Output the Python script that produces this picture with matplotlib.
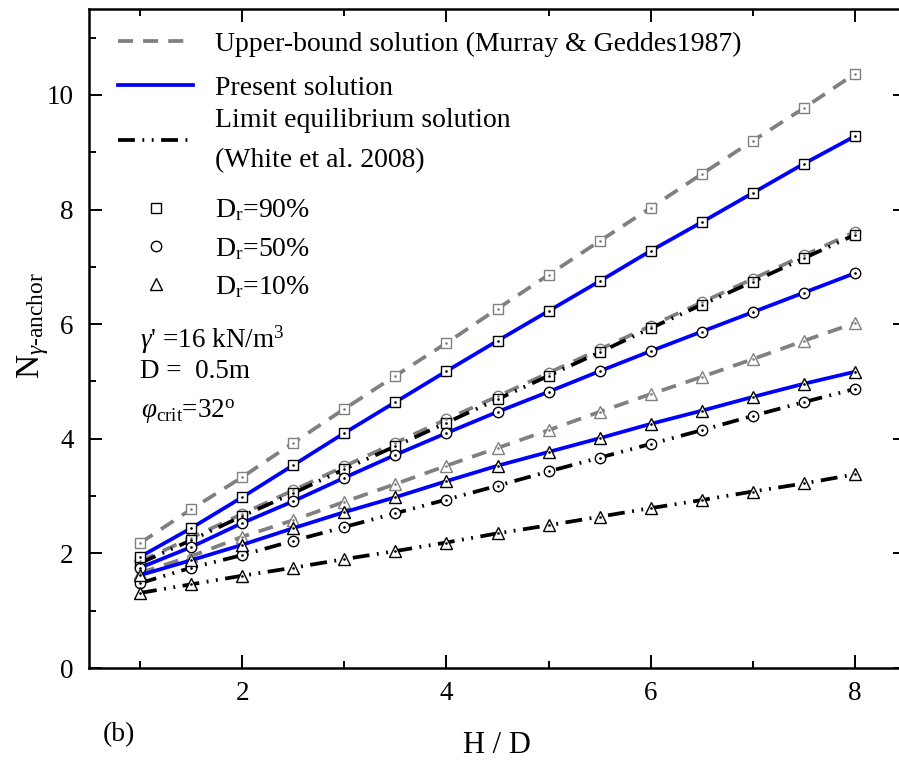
import matplotlib
matplotlib.use('Agg')
import matplotlib.pyplot as plt
from matplotlib.lines import Line2D
from matplotlib.ticker import MultipleLocator

plt.rcParams['font.family'] = ['Liberation Serif', 'DejaVu Serif']
plt.rcParams['mathtext.fontset'] = 'custom'
plt.rcParams['mathtext.rm'] = 'Liberation Serif'
plt.rcParams['mathtext.it'] = 'Liberation Serif:italic'

# H/D values
hd = [1, 1.5, 2, 2.5, 3, 3.5, 4, 4.5, 5, 5.5, 6, 6.5, 7, 7.5, 8]

# upper-bound solution (Murray & Geddes 1987)
ub90 = [2.18, 2.77, 3.33, 3.93, 4.52, 5.10, 5.67, 6.27, 6.86, 7.45, 8.03, 8.62, 9.20, 9.77, 10.37]
ub50 = [1.86, 2.27, 2.69, 3.10, 3.52, 3.93, 4.34, 4.74, 5.15, 5.56, 5.97, 6.38, 6.79, 7.20, 7.61]
ub10 = [1.66, 1.95, 2.29, 2.58, 2.90, 3.21, 3.53, 3.84, 4.15, 4.47, 4.78, 5.08, 5.39, 5.71, 6.02]
# present solution
ps90 = [1.94, 2.44, 2.98, 3.54, 4.10, 4.64, 5.18, 5.71, 6.23, 6.75, 7.28, 7.78, 8.29, 8.80, 9.28]
ps50 = [1.75, 2.11, 2.53, 2.91, 3.32, 3.72, 4.10, 4.47, 4.82, 5.18, 5.53, 5.87, 6.21, 6.55, 6.89]
ps10 = [1.62, 1.88, 2.15, 2.44, 2.72, 2.98, 3.26, 3.53, 3.77, 4.01, 4.26, 4.49, 4.73, 4.96, 5.17]
# limit equilibrium solution (White et al. 2008)
le90 = [1.83, 2.23, 2.65, 3.05, 3.47, 3.87, 4.28, 4.69, 5.10, 5.51, 5.93, 6.34, 6.74, 7.15, 7.56]
le50 = [1.48, 1.75, 1.97, 2.22, 2.46, 2.70, 2.94, 3.18, 3.43, 3.67, 3.91, 4.15, 4.40, 4.64, 4.87]
le10 = [1.31, 1.46, 1.61, 1.75, 1.90, 2.04, 2.19, 2.35, 2.49, 2.64, 2.79, 2.93, 3.08, 3.22, 3.38]

GRAY = '#808080'
BLUE = '#0000ff'
LW = 2.7
dash = (0, (4.0, 2.7))
dashdotdot = (0, (4.5, 2.0, 0.5, 2.0, 0.5, 2.0))
msize = {'s': 7, 'o': 7.5, '^': 8}
FS = 20

fig = plt.figure(figsize=(8.99, 7.6), dpi=100)
ax = fig.add_axes([89 / 899, 92 / 760, 817 / 899, 659 / 760])


def series(y, color, ls, marker, mec):
    ax.plot(hd, y, color=color, ls=ls, lw=LW, marker=marker, ms=msize[marker],
            mfc='white', mec=mec, mew=1.0, zorder=3)
    ax.plot(hd, y, ls='none', marker='.', ms=1.8, color=mec, zorder=4)


series(ub90, GRAY, dash, 's', GRAY)
series(ub50, GRAY, dash, 'o', GRAY)
series(ub10, GRAY, dash, '^', GRAY)
series(le90, 'black', dashdotdot, 's', 'black')
series(le50, 'black', dashdotdot, 'o', 'black')
series(le10, 'black', dashdotdot, '^', 'black')
series(ps90, BLUE, '-', 's', 'black')
series(ps50, BLUE, '-', 'o', 'black')
series(ps10, BLUE, '-', '^', 'black')

ax.set_xlim(0.5, 8.5)
ax.set_ylim(0, 11.5)
ax.xaxis.set_major_locator(MultipleLocator(2))
ax.xaxis.set_minor_locator(MultipleLocator(1))
ax.yaxis.set_major_locator(MultipleLocator(2))
ax.yaxis.set_minor_locator(MultipleLocator(1))
ax.tick_params(which='both', direction='in', top=True, right=True, width=1.4, labelsize=19.5)
ax.tick_params(which='major', length=9.5)
ax.tick_params(which='minor', length=5)
ax.tick_params(axis='x', pad=9)
ax.tick_params(axis='y', pad=11)
for sp in ax.spines.values():
    sp.set_linewidth(1.8)

ax.set_xlabel('H / D', fontsize=22)
ax.xaxis.set_label_coords(0.499, -0.117)
ax.xaxis.label.set_va('center')
ax.set_ylabel(r'N$_{\gamma\text{-anchor}}$', fontsize=24)
ax.yaxis.set_label_coords(-0.0685, 0.52)
ax.yaxis.label.set_va('center')

# legends
common = dict(loc='upper left', frameon=False, fontsize=FS, handlelength=2.7,
              handletextpad=0.8, borderpad=0, borderaxespad=0)
hA = [Line2D([], [], color=GRAY, ls=dash, lw=LW),
      Line2D([], [], color=BLUE, ls='-', lw=LW)]
lA = ['Upper-bound solution (Murray & Geddes1987)', 'Present solution']
legA = ax.legend(hA, lA, bbox_to_anchor=(0.0355, 0.9664), labelspacing=0.67, **common)
ax.add_artist(legA)

hB = [Line2D([], [], color='black', ls=dashdotdot, lw=LW)]
lB = ['Limit equilibrium solution\n(White et al. 2008)']
legB = ax.legend(hB, lB, bbox_to_anchor=(0.0355, 0.850), **common)
legB.get_texts()[0].set_linespacing(1.8)
ax.add_artist(legB)

hC = [Line2D([], [], ls='none', marker=m, ms=msize[m], mfc='white', mec='black', mew=1.0)
      for m in ['s', 'o', '^']]
lC = [r'D$_\mathrm{r}$=90%', r'D$_\mathrm{r}$=50%', r'D$_\mathrm{r}$=10%']
ax.legend(hC, lC, bbox_to_anchor=(0.0355, 0.714), labelspacing=0.45, **common)

# annotations
fig.text(140 / 899, 1 - 340 / 760, r"$\gamma$' =16 kN/m$^3$", fontsize=19.5, va='center')
fig.text(140 / 899, 1 - 372 / 760, 'D =  0.5m', fontsize=19.5, va='center')
fig.text(141 / 899, 1 - 412 / 760, r'$\varphi_\mathrm{crit}$=32$^\mathrm{o}$', fontsize=19.5, va='center')
fig.text(103 / 899, 1 - 735 / 760, '(b)', fontsize=20, va='center')

fig.savefig('out.png', dpi=100)
